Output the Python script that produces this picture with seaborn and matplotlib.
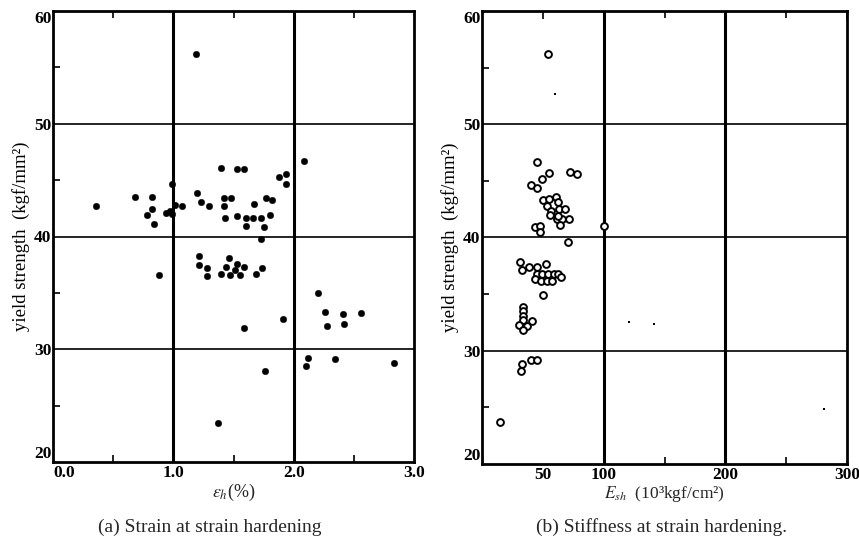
import matplotlib
matplotlib.use("Agg")
import matplotlib.pyplot as plt
import seaborn as sns
import pandas as pd

# (a) strain at strain hardening (%) vs yield strength (kgf/mm2)
strain_h = [1.19, 0.36, 0.68, 0.82, 0.82, 0.78, 0.84, 0.88, 0.99, 0.94,
            0.97, 0.99, 1.01, 1.07, 1.20, 1.23, 1.30, 1.40, 1.53, 1.59,
            1.42, 1.48, 1.42, 1.43, 1.53, 1.60, 1.66, 1.73, 1.60, 1.75,
            1.67, 1.77, 1.82, 1.80, 1.73, 1.88, 1.94, 1.94, 2.09, 1.21,
            1.21, 1.28, 1.28, 1.40, 1.46, 1.44, 1.47, 1.53, 1.51, 1.55,
            1.59, 1.69, 1.74, 1.59, 1.91, 1.76, 1.37, 2.20, 2.26, 2.41,
            2.56, 2.28, 2.42, 2.12, 2.10, 2.34, 2.83]
yield_a = [56.2, 42.7, 43.5, 43.5, 42.4, 41.9, 41.1, 36.6, 44.7, 42.1,
           42.3, 42.0, 42.8, 42.7, 43.9, 43.1, 42.7, 46.1, 46.0, 46.0,
           43.4, 43.4, 42.7, 41.6, 41.8, 41.6, 41.6, 41.6, 40.9, 40.8,
           42.9, 43.4, 43.2, 41.9, 39.8, 45.3, 45.5, 44.7, 46.7, 38.3,
           37.5, 37.2, 36.5, 36.7, 38.1, 37.3, 36.6, 37.6, 37.0, 36.6,
           37.3, 36.7, 37.2, 31.9, 32.7, 28.1, 23.5, 35.0, 33.3, 33.1,
           33.2, 32.1, 32.2, 29.2, 28.5, 29.1, 28.8]

# (b) stiffness at strain hardening (10^3 kgf/cm2) vs yield strength
stiff_sh = [54.6, 45.3, 54.9, 49.3, 72.0, 77.9, 40.5, 45.6, 49.9, 55.2,
            60.8, 53.3, 62.7, 56.8, 63.5, 68.0, 55.5, 61.3, 66.1, 71.2,
            64.5, 62.1, 43.2, 48.0, 48.0, 70.9, 100.0, 31.2, 33.1, 38.7,
            45.1, 52.8, 44.8, 49.3, 53.9, 58.9, 62.7, 65.3, 43.5, 48.3,
            53.3, 57.9, 50.5, 34.1, 34.1, 33.6, 33.6, 30.1, 37.3, 33.3,
            40.8, 40.5, 45.6, 32.5, 32.0, 15.2]
yield_b = [56.2, 46.7, 45.7, 45.2, 45.8, 45.6, 44.6, 44.4, 43.3, 43.4,
           43.6, 42.8, 43.1, 42.3, 42.5, 42.5, 42.0, 41.6, 41.6, 41.6,
           41.1, 41.9, 40.9, 41.0, 40.5, 39.6, 41.0, 37.8, 37.1, 37.4,
           37.4, 37.7, 36.8, 36.8, 36.8, 36.8, 36.8, 36.5, 36.3, 36.2,
           36.2, 36.2, 34.9, 33.9, 33.5, 33.1, 32.7, 32.3, 32.2, 31.8,
           32.6, 29.2, 29.2, 28.8, 28.2, 23.7]

# small stray dots in panel (b)
dot_x = [60.0, 121.0, 141.0, 281.0]
dot_y = [52.7, 32.5, 32.4, 24.9]

y_ticks = [20, 30, 40, 50, 60]
y_labels = ["20", "30", "40", "50", "60"]
x_ticks_a = [0.0, 1.0, 2.0, 3.0]
x_labels_a = ["0.0", "1.0", "2.0", "3.0"]
x_ticks_b = [50, 100, 200, 300]
x_labels_b = ["50", "100", "200", "300"]

df_a = pd.DataFrame({"strain": strain_h, "fy": yield_a})
df_b = pd.DataFrame({"esh": stiff_sh, "fy": yield_b})
df_dots = pd.DataFrame({"esh": dot_x, "fy": dot_y})

sns.set_theme(style="white")
plt.rcParams["font.family"] = ["Liberation Serif", "DejaVu Serif"]
plt.rcParams["mathtext.fontset"] = "stix"

W, H = 859, 554
fig = plt.figure(figsize=(W / 100, H / 100), dpi=100)
fig.patch.set_facecolor("white")
ax_a = fig.add_axes([53 / W, 1 - 462 / H, (414 - 53) / W, (462 - 11) / H])
ax_b = fig.add_axes([482 / W, 1 - 464 / H, (847 - 482) / W, (464 - 11) / H])

tick_font = dict(family="Liberation Serif", weight="bold", size=12.5)


def style_axes(ax, xlim, xt, xl, xminor, vgrid):
    ax.set_xlim(*xlim)
    ax.set_ylim(20, 60)
    for g in vgrid:
        ax.axvline(g, color="black", lw=2.2, zorder=1)
    for g in [30, 40, 50]:
        ax.axhline(g, color="black", lw=1.2, zorder=1)
    for s in ax.spines.values():
        s.set_color("black")
        s.set_linewidth(2.0)
    ax.set_xticks(xt)
    ax.set_xticklabels(xl, fontdict=tick_font)
    ax.set_yticks(y_ticks)
    ax.set_yticklabels(y_labels, fontdict=tick_font)
    # bottom y label sits just above the x axis, top one just below the frame
    ax.get_yticklabels()[0].set_va("bottom")
    ax.get_yticklabels()[-1].set_va("top")
    ax.set_xticks(xminor, minor=True)
    ax.set_yticks([25, 35, 45, 55], minor=True)
    ax.tick_params(which="major", length=0, pad=1, colors="black")
    ax.tick_params(which="minor", direction="in", length=5, width=1.2,
                   top=True, bottom=True, left=True, right=False,
                   colors="black")
    ax.tick_params(axis="x", which="major", pad=2)
    ax.set_ylabel("yield strength  (kgf/mm²)", fontsize=13.5,
                  labelpad=3, color="black")


# panel (a)
sns.scatterplot(data=df_a, x="strain", y="fy", ax=ax_a, color="black",
                s=22, edgecolor="black", linewidth=0.3, zorder=3,
                legend=False)
style_axes(ax_a, (0, 3.0), x_ticks_a, x_labels_a, [0.5, 1.5, 2.5],
           [1.0, 2.0])
ax_a.get_xticklabels()[0].set_ha("left")
ax_a.set_xlabel(r"$\varepsilon_{h}$(%)", fontsize=13, labelpad=1)

# panel (b)
sns.scatterplot(data=df_b, x="esh", y="fy", ax=ax_b, facecolor="white",
                edgecolor="black", s=24, linewidth=1.4, zorder=3,
                legend=False)
sns.scatterplot(data=df_dots, x="esh", y="fy", ax=ax_b, color="black",
                s=3, marker="s", linewidth=0, zorder=3, legend=False)
style_axes(ax_b, (0, 300), x_ticks_b, x_labels_b, [150, 250],
           [100, 200])
ax_b.tick_params(axis="x", which="major", length=6, direction="in",
                 width=1.2, top=True, pad=2)
ax_b.set_xlabel(r"$E_{sh}$  (10³kgf/cm²)", fontsize=12.5, labelpad=1)

fig.text(210 / W, 1 - 527 / H, "(a) Strain at strain hardening",
         ha="center", va="center", fontsize=14)
fig.text(662 / W, 1 - 527 / H, "(b) Stiffness at strain hardening.",
         ha="center", va="center", fontsize=14)

fig.savefig("out.png", dpi=100, facecolor="white")
